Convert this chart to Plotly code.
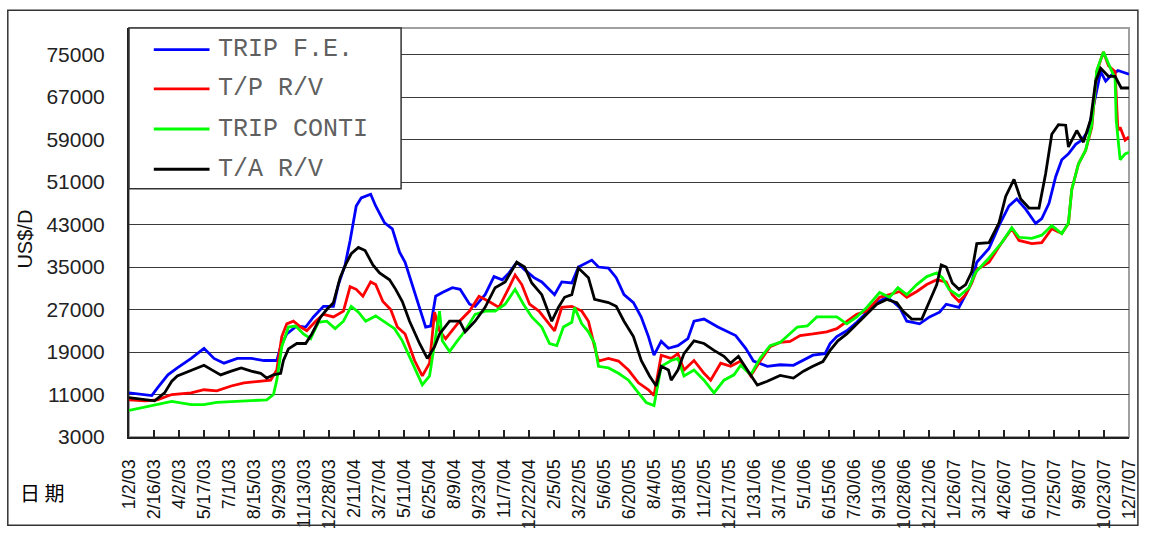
import pandas as pd
import plotly.graph_objects as go

# ---------------- data ----------------
fe_dates = ["2003-01-02","2003-02-12","2003-02-22","2003-03-13","2003-03-30","2003-04-24","2003-05-17","2003-06-04",
            "2003-06-22","2003-07-16","2003-08-10","2003-09-02","2003-09-25","2003-10-02","2003-10-13","2003-10-31",
            "2003-11-16","2003-11-30","2003-12-18","2004-01-05","2004-01-14","2004-01-26","2004-02-04","2004-02-10",
            "2004-02-15","2004-02-24","2004-03-12","2004-03-21","2004-04-06","2004-04-20","2004-05-03","2004-05-13",
            "2004-05-26","2004-06-08","2004-06-19","2004-06-28","2004-07-07","2004-07-19","2004-08-06","2004-08-20",
            "2004-09-06","2004-09-16","2004-10-04","2004-10-20","2004-11-04","2004-11-16","2004-11-30","2004-12-14",
            "2004-12-31","2005-01-14","2005-02-06","2005-02-19","2005-03-09","2005-03-21","2005-04-14","2005-04-26",
            "2005-05-14","2005-05-28","2005-06-11","2005-06-28","2005-07-12","2005-07-25","2005-08-04","2005-08-17",
            "2005-08-30","2005-09-16","2005-10-04","2005-10-15","2005-11-02","2005-11-27","2005-12-15","2005-12-29",
            "2006-01-16","2006-01-30","2006-02-24","2006-03-19","2006-04-12","2006-05-07","2006-05-17","2006-06-08",
            "2006-06-17","2006-06-29","2006-07-17","2006-08-04","2006-08-22","2006-09-09","2006-09-27","2006-10-08",
            "2006-10-20","2006-11-02","2006-11-13","2006-11-25","2006-12-13","2006-12-31","2007-01-12","2007-02-04",
            "2007-02-16","2007-02-27","2007-03-08","2007-03-30","2007-04-17","2007-05-05","2007-05-19","2007-06-04",
            "2007-06-22","2007-07-03","2007-07-16","2007-07-28","2007-08-08","2007-08-20","2007-09-02","2007-09-13",
            "2007-09-25","2007-10-10","2007-10-17","2007-10-26","2007-11-05","2007-11-17","2007-11-30","2007-12-07"]
fe_values = [11300,10800,12200,14700,16000,17800,19700,17800,
             16900,17800,17800,17400,17400,20000,22400,23900,
             23700,25600,27600,27600,31700,35400,40000,43200,
             46500,48000,48700,46500,43300,42200,37800,35900,
             31700,27400,23700,23900,29500,30200,31100,30800,
             28000,27600,29800,33200,32600,33900,35900,34500,
             33000,32200,29800,32200,32000,35000,36300,35000,
             34800,33000,29800,28300,25600,21900,18400,21000,
             19700,20200,21500,24800,25200,23700,22800,22100,
             19700,17300,16300,16600,16500,17800,18400,18700,
             20600,21900,23000,24600,26500,28300,29300,28500,
             27400,24800,24600,24300,25600,26500,28000,27400,
             29800,32200,35900,38500,42800,46500,47800,45900,
             43200,44100,47000,52000,55200,56300,58100,58900,
             60700,68700,71800,70000,71100,72000,71500,71300]

tp_dates = ["2003-01-02","2003-01-31","2003-02-22","2003-03-20","2003-04-24","2003-05-17","2003-06-09","2003-07-05",
            "2003-07-28","2003-08-20","2003-09-14","2003-09-25","2003-10-04","2003-10-13","2003-10-25","2003-11-07",
            "2003-11-18","2003-12-04","2003-12-18","2004-01-05","2004-01-23","2004-02-04","2004-02-15","2004-02-27",
            "2004-03-12","2004-03-21","2004-04-03","2004-04-17","2004-04-29","2004-05-13","2004-05-30","2004-06-13",
            "2004-06-26","2004-07-05","2004-07-14","2004-07-25","2004-08-06","2004-08-19","2004-09-06","2004-09-23",
            "2004-10-11","2004-10-29","2004-11-16","2004-11-27","2004-12-09","2004-12-23","2005-01-09","2005-01-27",
            "2005-02-06","2005-02-19","2005-03-09","2005-03-27","2005-04-08","2005-04-19","2005-04-26","2005-05-14",
            "2005-06-01","2005-06-19","2005-07-07","2005-07-25","2005-08-04","2005-08-17","2005-09-04","2005-09-16",
            "2005-09-27","2005-10-15","2005-11-02","2005-11-14","2005-12-02","2005-12-20","2006-01-07","2006-01-25",
            "2006-02-11","2006-03-01","2006-03-19","2006-04-06","2006-04-24","2006-05-17","2006-06-11","2006-06-29",
            "2006-07-17","2006-08-04","2006-08-22","2006-09-14","2006-10-02","2006-10-20","2006-11-02","2006-11-20",
            "2006-12-08","2006-12-26","2007-01-12","2007-01-23","2007-02-04","2007-02-16","2007-02-27","2007-03-08",
            "2007-03-30","2007-04-22","2007-05-10","2007-05-23","2007-06-15","2007-07-03","2007-07-21","2007-08-08",
            "2007-08-20","2007-08-26","2007-09-07","2007-09-20","2007-10-01","2007-10-10","2007-10-22","2007-10-31",
            "2007-11-12","2007-11-17","2007-11-21","2007-11-30","2007-12-07"]
tp_values = [10000,9800,10000,11000,11300,11900,11700,12600,
             13200,13500,13700,15600,21900,24300,24800,23700,
             23000,24800,26100,25600,26700,31300,30800,29500,
             32200,31700,28500,27000,23700,22400,17400,14500,
             16900,26500,23000,21500,23000,24800,26700,29500,
             28500,27400,31100,33500,31700,28000,26700,24300,
             23000,27400,27600,26700,24800,20000,17300,17800,
             17300,15600,13200,11900,10800,18400,17800,18700,
             15600,17400,15000,13700,16900,16300,17300,14500,
             17300,20000,20800,21000,22100,22400,22800,23400,
             24800,26100,26700,29300,29800,30400,29300,30400,
             31700,32600,32200,29800,28500,29800,32000,34500,
             35900,39600,42200,40000,39400,39600,42200,41300,
             43200,49600,54400,57000,61300,71800,75500,72900,
             71800,60700,61300,58900,59500]

conti_dates = ["2003-01-02","2003-01-31","2003-02-22","2003-03-20","2003-04-24","2003-05-17","2003-06-09","2003-07-10",
               "2003-08-10","2003-09-07","2003-09-19","2003-09-25","2003-10-04","2003-10-16","2003-10-29","2003-11-12",
               "2003-11-25","2003-12-09","2003-12-24","2004-01-08","2004-01-23","2004-02-06","2004-02-19","2004-03-03",
               "2004-03-21","2004-04-08","2004-04-24","2004-05-08","2004-05-21","2004-06-01","2004-06-13","2004-06-26",
               "2004-07-07","2004-07-14","2004-07-19","2004-08-01","2004-08-15","2004-08-29","2004-09-16","2004-10-04",
               "2004-10-22","2004-11-09","2004-11-27","2004-12-12","2004-12-27","2005-01-14","2005-01-28","2005-02-10",
               "2005-02-22","2005-03-09","2005-03-14","2005-03-27","2005-04-08","2005-04-19","2005-04-26","2005-05-14",
               "2005-06-01","2005-06-19","2005-07-07","2005-07-21","2005-08-04","2005-08-17","2005-09-04","2005-09-16",
               "2005-09-27","2005-10-15","2005-11-02","2005-11-20","2005-12-08","2005-12-26","2006-01-07","2006-01-25",
               "2006-02-11","2006-03-01","2006-03-19","2006-04-06","2006-04-19","2006-05-07","2006-05-24","2006-06-11",
               "2006-06-29","2006-07-17","2006-08-04","2006-08-22","2006-09-14","2006-10-02","2006-10-17","2006-11-02",
               "2006-11-20","2006-12-08","2006-12-26","2007-01-05","2007-01-17","2007-02-04","2007-02-22","2007-03-06",
               "2007-03-30","2007-04-22","2007-05-10","2007-05-23","2007-06-15","2007-07-03","2007-07-21","2007-08-08",
               "2007-08-20","2007-08-26","2007-09-07","2007-09-20","2007-10-01","2007-10-10","2007-10-22","2007-10-31",
               "2007-11-12","2007-11-14","2007-11-21","2007-11-30","2007-12-07"]
conti_values = [8000,8600,9100,9700,9100,9100,9500,9700,
                9800,10000,11000,13700,20000,23700,23900,22400,
                21500,24600,24800,23400,24800,27600,26500,24800,
                25800,24600,23400,21100,18200,15600,12800,14500,
                22400,26700,21100,19100,21100,23000,26100,26700,
                26700,28000,30800,28000,25600,23700,20600,20200,
                23700,24600,27400,24300,22800,20600,16300,16000,
                15000,13700,11300,9500,8900,16300,17400,17800,
                14500,15600,13700,11300,13700,14700,16500,14700,
                17800,20200,20800,22500,23700,23900,25600,25600,
                25600,24300,25600,27400,30200,29300,31100,29800,
                31700,33200,33900,33000,30800,29500,31100,34000,
                36700,39600,42400,40600,40400,41000,42800,41300,
                43300,49600,54400,57000,61800,72000,75500,73300,
                70500,62600,55200,56300,56600]

ta_dates = ["2003-01-02","2003-01-31","2003-02-17","2003-03-07","2003-03-20","2003-03-30","2003-04-24","2003-05-17",
            "2003-06-04","2003-06-16","2003-07-05","2003-07-23","2003-08-10","2003-08-27","2003-09-07","2003-09-19",
            "2003-10-02","2003-10-07","2003-10-16","2003-10-31","2003-11-16","2003-11-27","2003-12-13","2003-12-24",
            "2004-01-05","2004-01-17","2004-01-28","2004-02-06","2004-02-19","2004-03-02","2004-03-16","2004-03-28",
            "2004-04-15","2004-04-26","2004-05-08","2004-05-21","2004-06-08","2004-06-22","2004-07-05","2004-07-14",
            "2004-08-01","2004-08-19","2004-08-29","2004-09-16","2004-10-04","2004-10-22","2004-11-09","2004-11-30",
            "2004-12-14","2004-12-27","2005-01-14","2005-02-01","2005-02-13","2005-02-24","2005-03-09","2005-03-21",
            "2005-04-08","2005-04-19","2005-05-14","2005-05-28","2005-06-11","2005-06-28","2005-07-12","2005-07-27",
            "2005-08-08","2005-08-17","2005-08-30","2005-09-04","2005-09-16","2005-09-27","2005-10-15","2005-11-02",
            "2005-11-20","2005-12-08","2005-12-20","2006-01-03","2006-01-19","2006-02-06","2006-02-24","2006-03-19",
            "2006-04-12","2006-04-30","2006-05-17","2006-06-04","2006-06-17","2006-07-01","2006-07-17","2006-08-04",
            "2006-08-22","2006-09-09","2006-09-27","2006-10-15","2006-10-26","2006-11-11","2006-11-29","2006-12-13",
            "2006-12-26","2007-01-03","2007-01-12","2007-01-23","2007-02-04","2007-02-16","2007-02-27","2007-03-08",
            "2007-03-30","2007-04-17","2007-04-29","2007-05-14","2007-05-26","2007-06-10","2007-06-28","2007-07-10",
            "2007-07-21","2007-08-02","2007-08-15","2007-08-20","2007-09-04","2007-09-16","2007-09-29","2007-10-08",
            "2007-10-17","2007-10-31","2007-11-12","2007-11-23","2007-12-07"]
ta_values = [10400,10000,9800,11300,13500,14500,15600,16500,
             15400,14700,15400,16000,15400,15000,14100,14700,
             15000,17400,19600,20600,20600,22400,25600,27000,
             28300,33000,35700,37500,38700,38100,35400,33900,
             32600,30800,28500,24800,20600,17800,20000,22400,
             24800,24800,22800,24800,27400,31100,32200,35900,
             35000,32000,29800,24800,27400,29300,29800,34800,
             33000,28900,28300,27600,24800,21900,17400,14500,
             12600,16300,15600,13700,15600,18700,21100,20600,
             19300,18200,16900,18200,15600,12800,13500,14600,
             14100,15400,16300,17200,19300,21100,22400,24300,
             26100,28000,28900,28300,26700,25200,25200,28500,
             31700,35400,35000,32000,30800,31700,34100,39400,
             39600,43300,48300,51500,47800,46100,46100,52600,
             60000,61800,61700,57600,60700,58500,62800,70000,
             72400,70900,70900,68700,68700]

series_names = ["TRIP F.E.", "T/P R/V", "TRIP CONTI", "T/A R/V"]
series_colors = ["#0000FF", "#FF0000", "#00FF00", "#000000"]

tick_labels = ["1/2/03","2/16/03","4/2/03","5/17/03","7/1/03","8/15/03","9/29/03","11/13/03","12/28/03",
               "2/11/04","3/27/04","5/11/04","6/25/04","8/9/04","9/23/04","11/7/04","12/22/04",
               "2/5/05","3/22/05","5/6/05","6/20/05","8/4/05","9/18/05","11/2/05","12/17/05",
               "1/31/06","3/17/06","5/1/06","6/15/06","7/30/06","9/13/06","10/28/06","12/12/06",
               "1/26/07","3/12/07","4/26/07","6/10/07","7/25/07","9/8/07","10/23/07","12/7/07"]
y_ticks = [3000, 11000, 19000, 27000, 35000, 43000, 51000, 59000, 67000, 75000]
y_range = [3000, 80000]

# ---------------- figure ----------------
tick_vals = pd.to_datetime(tick_labels, format="%m/%d/%y")

fig = go.Figure()
all_dates = [fe_dates, tp_dates, conti_dates, ta_dates]
all_values = [fe_values, tp_values, conti_values, ta_values]
for name, color, d, v in zip(series_names, series_colors, all_dates, all_values):
    fig.add_trace(go.Scatter(x=pd.to_datetime(d), y=v, mode="lines", name=name,
                             line=dict(color=color, width=2.8), showlegend=False))

fig.update_layout(
    width=1151, height=541,
    margin=dict(l=129, r=15, t=28, b=96),
    paper_bgcolor="white", plot_bgcolor="white",
    font=dict(family="Liberation Sans", color="#222"),
)
fig.update_xaxes(
    range=[tick_vals[0], tick_vals[-1]],
    tickvals=tick_vals, ticktext=tick_labels, tickangle=-90,
    tickfont=dict(family="Liberation Sans", size=18, color="#111"),
    ticks="inside", ticklen=7, tickcolor="#222", tickwidth=1.5,
    ticklabelstandoff=13,
    showgrid=False, zeroline=False,
    showline=True, linecolor="#222", linewidth=2,
)
fig.update_yaxes(
    range=y_range, tickvals=y_ticks, ticktext=[str(t) for t in y_ticks],
    tickfont=dict(family="Liberation Sans", size=21, color="#222"),
    ticks="", ticklabelstandoff=18,
    showgrid=True, gridcolor="#3a3a3a", gridwidth=1.2,
    zeroline=False, showline=True, linecolor="#222", linewidth=2,
)

shapes = [
    # plot-area frame (top / right in gray)
    dict(type="rect", xref="paper", yref="paper", x0=0, x1=1, y0=0, y1=1,
         line=dict(color="#a0a0a0", width=2), layer="below"),
    # outer chart border
    dict(type="rect", xref="paper", yref="paper", x0=-0.1212, x1=1.0089, y0=-0.2158, y1=1.0432,
         line=dict(color="#333", width=1.5)),
    # legend box
    dict(type="rect", xref="paper", yref="paper", x0=0, x1=0.2721, y0=0.6067, y1=1.0,
         line=dict(color="#333", width=1.5), fillcolor="white", layer="above"),
]
legend_y = [0.9472, 0.8513, 0.7530, 0.6547]
annotations = []
for name, color, ly in zip(series_names, series_colors, legend_y):
    shapes.append(dict(type="line", xref="paper", yref="paper", x0=0.0248, x1=0.0805, y0=ly, y1=ly,
                       line=dict(color=color, width=2.8), layer="above"))
    annotations.append(dict(xref="paper", yref="paper", x=0.0874, y=ly, text=name, showarrow=False,
                            xanchor="left", yanchor="middle",
                            font=dict(family="Liberation Mono", size=25, color="#606060")))

annotations.append(dict(xref="paper", yref="paper", x=-0.1043, y=0.4844, text="US$/D", textangle=-90,
                        showarrow=False, xanchor="center", yanchor="middle",
                        font=dict(family="Liberation Sans", size=20, color="#111")))
annotations.append(dict(xref="paper", yref="paper", x=-0.0874, y=-0.1367, text="日 期",
                        showarrow=False, xanchor="center", yanchor="middle",
                        font=dict(family="Noto Sans CJK SC", size=20, color="#000")))

fig.update_layout(shapes=shapes, annotations=annotations)
fig.write_html("out.html")
